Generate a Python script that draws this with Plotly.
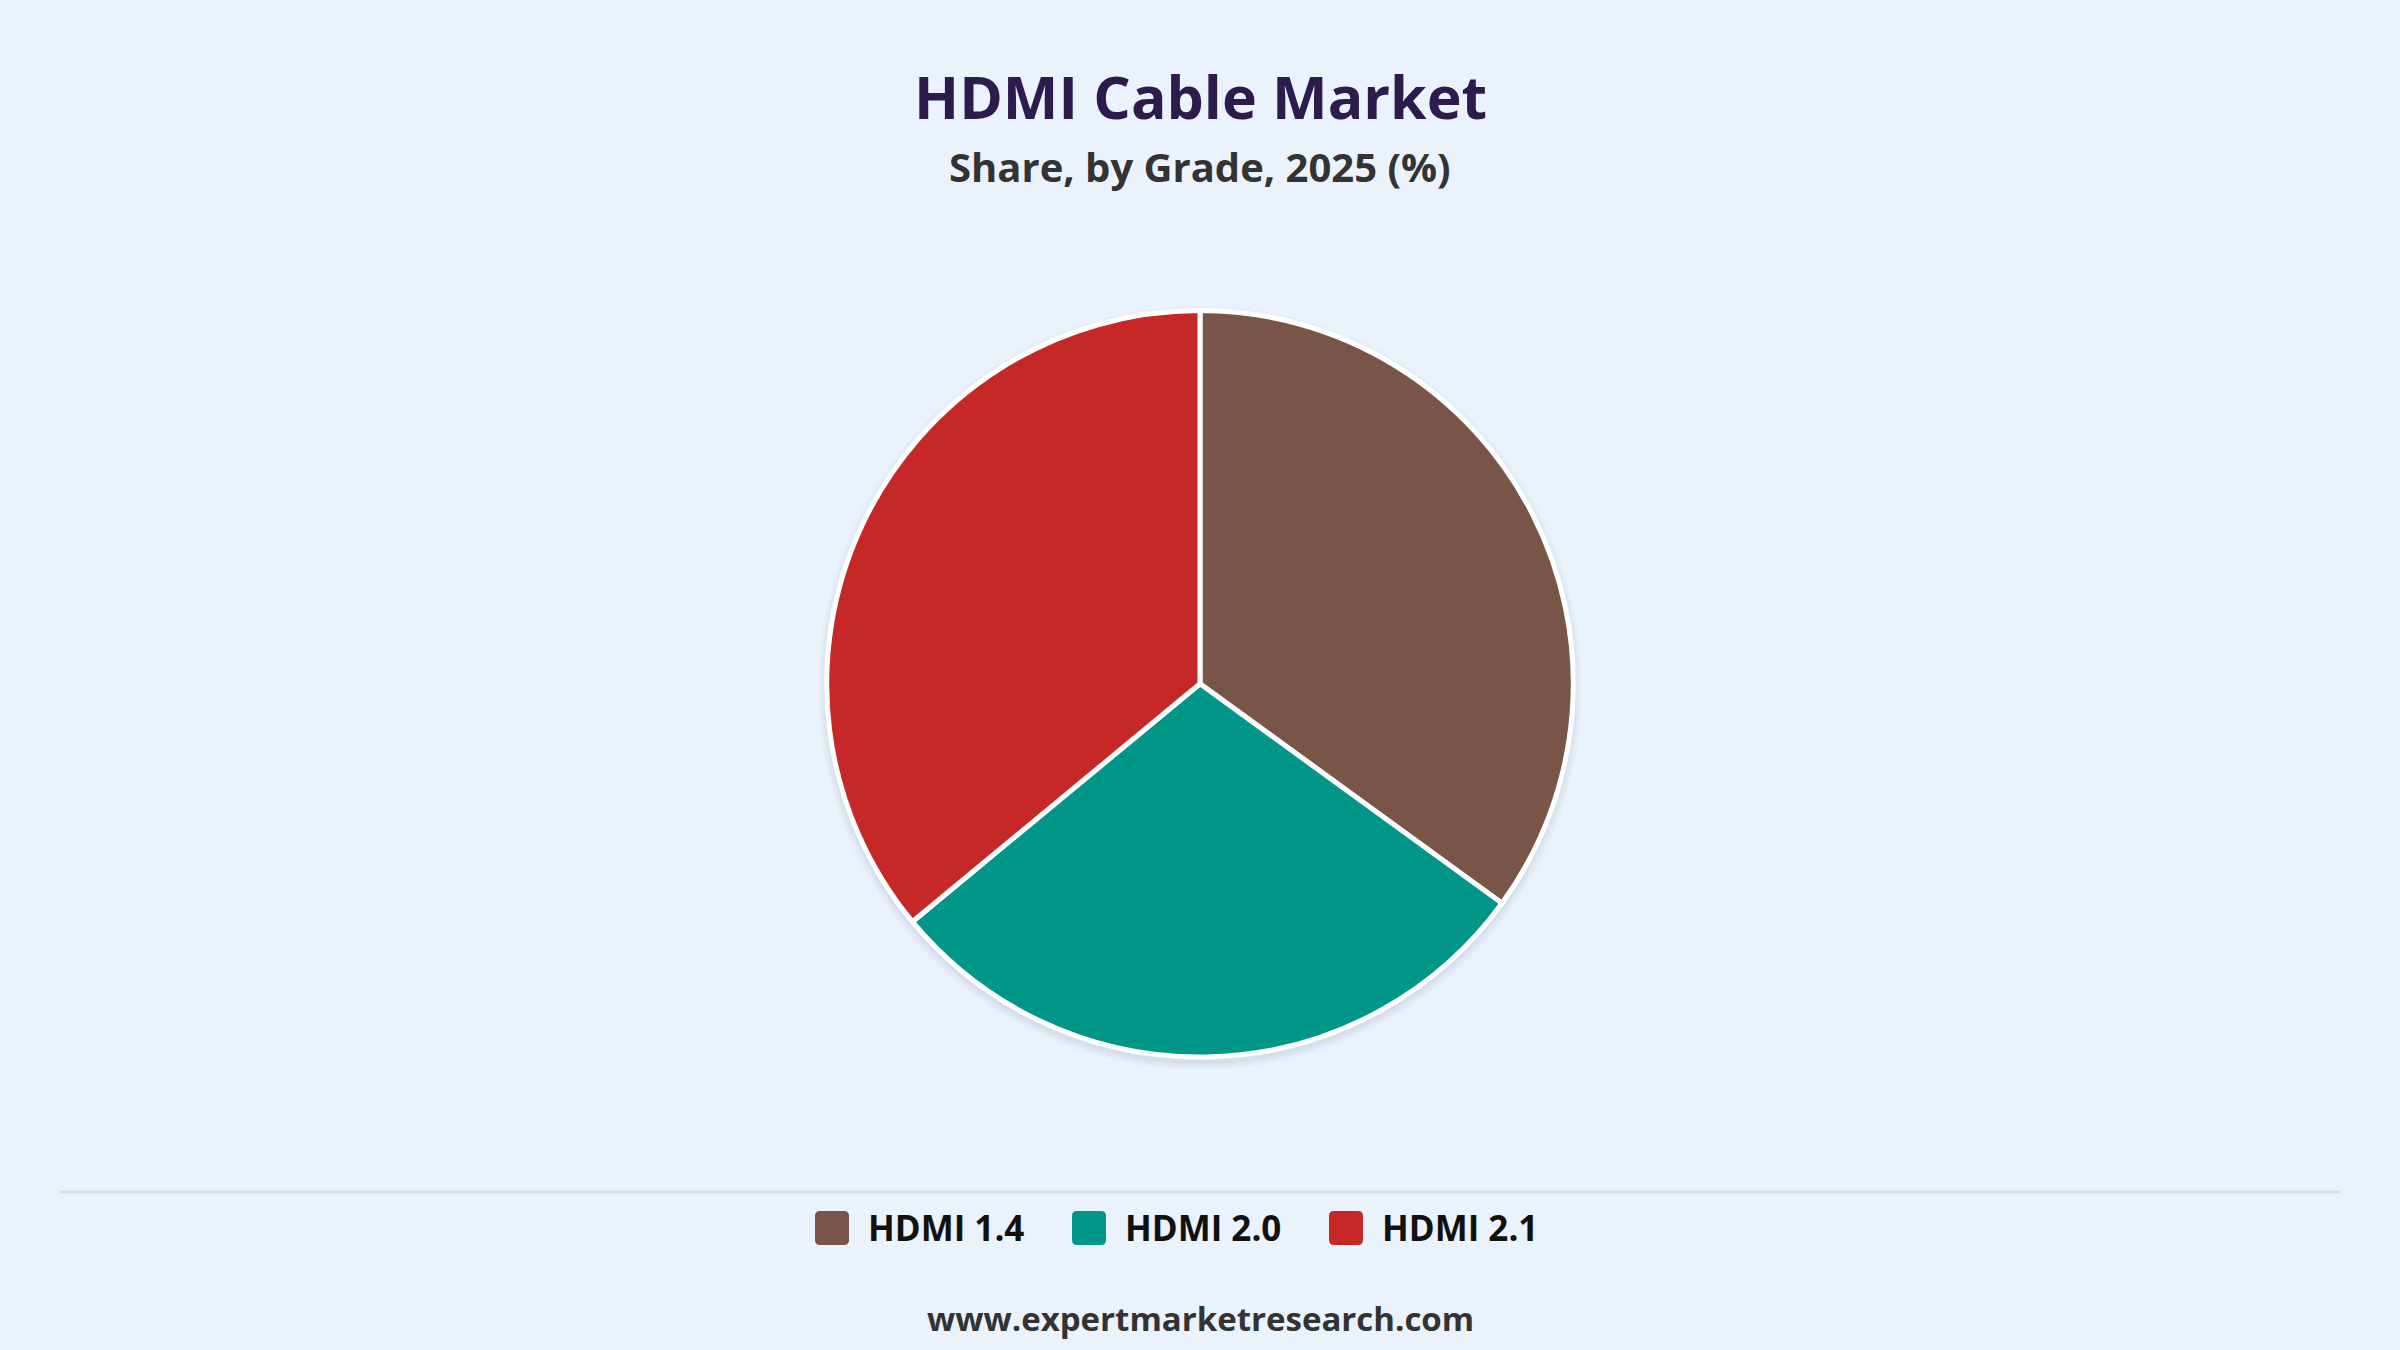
import plotly.graph_objects as go

grades = ["HDMI 1.4", "HDMI 2.0", "HDMI 2.1"]
shares = [35, 29, 36]
colors = ["#795548", "#009688", "#C62828"]

bg = "#EAF2FB"
font_name = "Open Sans"

fig = go.Figure()
fig.add_trace(go.Pie(
    labels=grades,
    values=shares,
    sort=False,
    direction="clockwise",
    rotation=0,
    marker=dict(colors=colors, line=dict(color="white", width=5)),
    textinfo="none",
    hoverinfo="label+percent",
    showlegend=False,
    domain=dict(x=[0, 1], y=[0.217, 0.770]),
))

# soft shadow under the pie
shapes = []
for grow, alpha in [(9, 0.025), (6, 0.035), (3, 0.05)]:
    shapes.append(dict(
        type="circle", layer="below", xref="paper", yref="paper",
        xsizemode="pixel", ysizemode="pixel", xanchor=0.5, yanchor=0.4904,
        x0=-373 - grow, x1=373 + grow, y0=-373 - grow, y1=373 + grow,
        fillcolor="rgba(60,70,90,%s)" % alpha, line=dict(width=0),
    ))

# separator line above legend
shapes.append(dict(
    type="line", xref="paper", yref="paper",
    x0=0.025, x1=0.975, y0=0.117, y1=0.117,
    line=dict(color="#D8DDE3", width=3),
))

annotations = [
    dict(text="<b>HDMI Cable Market</b>", x=0.5, y=0.929,
         font=dict(size=59, color="#2D1B4E", weight=800)),
    dict(text="<b>Share, by Grade, 2025 (%)</b>", x=0.5, y=0.877,
         font=dict(size=40, color="#333333")),
    dict(text="<b>www.expertmarketresearch.com</b>", x=0.5, y=0.023,
         font=dict(size=33, color="#333333")),
]
for a in annotations:
    a.update(xref="paper", yref="paper", showarrow=False,
             xanchor="center", yanchor="middle")

# legend with large rounded swatches
legend_y = 0.0904
legend_x0 = 832 / 2400
legend_step = 257 / 2400
r, h = 5, 17
swatch = ("M %d,%d L %d,%d Q %d,%d %d,%d L %d,%d Q %d,%d %d,%d "
          "L %d,%d Q %d,%d %d,%d L %d,%d Q %d,%d %d,%d Z") % (
    -h + r, -h, h - r, -h, h, -h, h, -h + r,
    h, h - r, h, h, h - r, h,
    -h + r, h, -h, h, -h, h - r,
    -h, -h + r, -h, -h, -h + r, -h)
for i, (g, c) in enumerate(zip(grades, colors)):
    cx = legend_x0 + i * legend_step
    shapes.append(dict(
        type="path", xref="paper", yref="paper",
        xsizemode="pixel", ysizemode="pixel", xanchor=cx, yanchor=legend_y,
        path=swatch, fillcolor=c, line=dict(width=0),
    ))
    annotations.append(dict(
        text="<b>%s</b>" % g, x=cx + 34 / 2400, y=legend_y,
        xref="paper", yref="paper", showarrow=False,
        xanchor="left", yanchor="middle",
        font=dict(size=35, color="#111111"),
    ))

fig.update_layout(
    width=2400,
    height=1350,
    paper_bgcolor=bg,
    plot_bgcolor=bg,
    margin=dict(l=0, r=0, t=0, b=0),
    font=dict(family=font_name, color="#222222"),
    showlegend=False,
    shapes=shapes,
    annotations=annotations,
)

fig.write_html("out.html", config={"displayModeBar": False},
               post_script="document.body.style.margin='0';")
